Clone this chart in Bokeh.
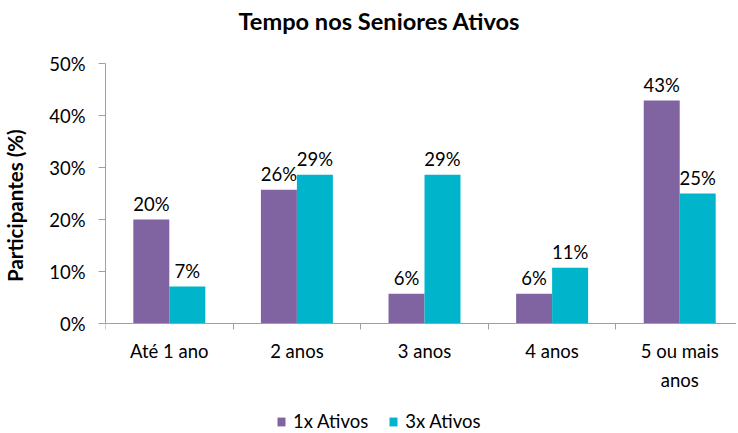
from bokeh.plotting import figure
from bokeh.models import (Range1d, FixedTicker, Legend, LegendItem, ColumnDataSource,
                          PrintfTickFormatter, Title)
from bokeh.transform import dodge
from bokeh.embed import file_html
from bokeh.resources import INLINE

# ---- data ----
categories = ["Até 1 ano", "2 anos", "3 anos", "4 anos", "5 ou mais anos"]
category_labels = ["Até 1 ano", "2 anos", "3 anos", "4 anos", "5 ou mais\nanos"]
series_names = ["1x Ativos", "3x Ativos"]
ativos_1x = [20.0, 25.7, 5.7, 5.7, 42.9]
ativos_3x = [7.1, 28.6, 28.6, 10.7, 25.0]
y_ticks = [0, 10, 20, 30, 40, 50]

FONT = "Lato"
PURPLE = "#8064A2"
TEAL = "#00B4CB"
AXIS_GRAY = "#A0A0A0"
FS = "18.5px"

xpos = [i + 0.5 for i in range(len(categories))]
src = ColumnDataSource(dict(
    x=xpos, cat=categories,
    a1=ativos_1x, a3=ativos_3x,
    l1=[f"{round(v)}%" for v in ativos_1x],
    l3=[f"{round(v)}%" for v in ativos_3x],
))

# the frame reaches the bottom of the canvas; the value axis covers 0..50 only
p = figure(frame_width=631, frame_height=369, output_backend="svg", toolbar_location=None,
           x_range=Range1d(0, 4.945), y_range=Range1d(-20.96, 50),
           min_border_left=99, min_border_right=0, min_border_top=56, min_border_bottom=0)
p.outline_line_color = None
p.xgrid.visible = False
p.ygrid.visible = False
p.background_fill_color = "white"
p.border_fill_color = "white"

# spacer (closest to the frame) then the real title
p.add_layout(Title(text=" ", text_font=FONT, text_font_size="19px", standoff=0), "above")
p.add_layout(Title(text="Tempo nos Seniores Ativos", align="left", offset=133,
                   text_font=FONT, text_font_size="23.6px", text_font_style="bold",
                   text_color="black", standoff=8), "above")

bw = 0.282
r1 = p.vbar(x=dodge("x", -bw / 2), top="a1", width=bw, source=src,
            fill_color=PURPLE, line_color=None)
r3 = p.vbar(x=dodge("x", bw / 2), top="a3", width=bw, source=src,
            fill_color=TEAL, line_color=None)

for col, lab, off in (("a1", "l1", -bw / 2), ("a3", "l3", bw / 2)):
    p.text(x=dodge("x", off), y=col, text=lab, source=src, y_offset=-15.5,
           text_align="center", text_baseline="alphabetic",
           text_font={"value": FONT}, text_font_size={"value": FS}, text_color="black")

# x axis, drawn at y = 0
xa = p.xaxis[0]
xa.fixed_location = 0
xa.ticker = FixedTicker(ticks=xpos, minor_ticks=[0, 1, 2, 3, 4, 5])
xa.major_label_overrides = {x: lab for x, lab in zip(xpos, category_labels)}
xa.major_tick_out = 0
xa.major_tick_in = 0
xa.minor_tick_out = 6
xa.minor_tick_in = 0
xa.minor_tick_line_color = AXIS_GRAY
xa.axis_line_color = AXIS_GRAY
xa.major_label_standoff = 10
xa.major_label_text_font = FONT
xa.major_label_text_font_size = FS
xa.major_label_text_color = "black"
xa.major_label_text_line_height = 1.32

# y axis
ya = p.yaxis[0]
ya.bounds = (0, 50)
ya.ticker = FixedTicker(ticks=y_ticks)
ya.formatter = PrintfTickFormatter(format="%d%%")
ya.major_tick_out = 7
ya.major_tick_in = 0
ya.minor_tick_out = 0
ya.minor_tick_in = 0
ya.major_tick_line_color = AXIS_GRAY
ya.axis_line_color = AXIS_GRAY
ya.major_label_standoff = 13
ya.major_label_text_font = FONT
ya.major_label_text_font_size = FS
ya.major_label_text_color = "black"
# non-breaking spaces lift the centred label to the middle of the 0-50 % span
ya.axis_label = "\u00a0" * 17 + "Participantes (%)"
ya.axis_label_text_font = FONT
ya.axis_label_text_font_size = "20.5px"
ya.axis_label_text_font_style = "bold"
ya.axis_label_text_color = "black"
ya.axis_label_standoff = 19

legend = Legend(items=[LegendItem(label=series_names[0], renderers=[r1]),
                       LegendItem(label=series_names[1], renderers=[r3])],
                orientation="horizontal", location=(171, 0),
                padding=0, margin=0, border_line_alpha=0, background_fill_alpha=0,
                glyph_width=10, glyph_height=11, label_standoff=7, spacing=20,
                label_text_font=FONT, label_text_font_size=FS, label_text_color="black",
                label_height=20)
p.add_layout(legend)

open("out.html", "w").write(file_html(p, INLINE))
